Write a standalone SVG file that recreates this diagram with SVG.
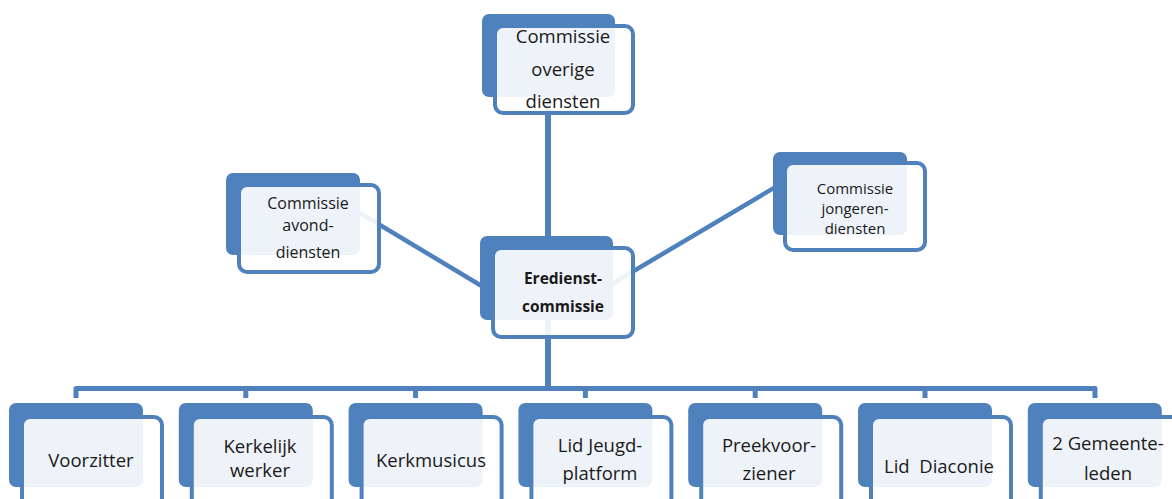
<svg xmlns="http://www.w3.org/2000/svg" width="1172" height="499" viewBox="0 0 1172 499">
<style>
.back{fill:#4f81bd}
.front{fill:#ffffff;fill-opacity:0.9;stroke:#4f81bd;stroke-width:4}
.conn{stroke:#4f81bd;fill:none}
text{font-family:"Open Sans","Noto Sans","Liberation Sans",sans-serif;fill:#1a1a1a;text-anchor:middle}
.t18{font-size:18.5px}
.t16{font-size:16px}
.t15{font-size:15px}
.tb{font-size:15.5px;font-weight:bold}
</style>
<rect width="1172" height="499" fill="#ffffff"/>
<g id="connectors">
<line class="conn" x1="548" y1="90" x2="548" y2="250" stroke-width="6"/>
<line class="conn" x1="548" y1="300" x2="548" y2="388" stroke-width="6"/>
<line class="conn" x1="340" y1="201" x2="500" y2="297" stroke-width="4.5"/>
<line class="conn" x1="600" y1="291" x2="790" y2="178.4" stroke-width="4.5"/>
<path class="conn" stroke-width="5" stroke-linejoin="round" d="M76,398 V388.5 H1095 V398"/>
<path class="conn" stroke-width="5" d="M245.8,388 V398 M415.6,388 V398 M585.4,388 V398 M755.2,388 V398 M925,388 V398"/>
</g>
<g id="node-overige">
<rect class="back" x="482" y="14" width="133" height="83" rx="7"/>
<rect class="front" x="495" y="26" width="138" height="87" rx="8"/>
<text class="t18" x="563" y="43">Commissie</text>
<text class="t18" x="563" y="76">overige</text>
<text class="t18" x="563" y="108">diensten</text>
</g>
<g id="node-avond">
<rect class="back" x="226" y="173" width="134" height="82" rx="7"/>
<rect class="front" x="239" y="185" width="140" height="87" rx="8"/>
<text class="t16" x="308" y="209">Commissie</text>
<text class="t16" x="308" y="231">avond-</text>
<text class="t16" x="308" y="258">diensten</text>
</g>
<g id="node-eredienst">
<rect class="back" x="480" y="236" width="133" height="84" rx="7"/>
<rect class="front" x="493" y="248" width="140" height="89" rx="8"/>
<text class="tb" x="563" y="284">Eredienst-</text>
<text class="tb" x="563" y="312">commissie</text>
</g>
<g id="node-jongeren">
<rect class="back" x="773" y="152" width="134" height="83" rx="7"/>
<rect class="front" x="785" y="163" width="140" height="87" rx="8"/>
<text class="t15" x="855" y="194">Commissie</text>
<text class="t15" x="855" y="214">jongeren-</text>
<text class="t15" x="855" y="234">diensten</text>
</g>
<g id="node-voorzitter">
<rect class="back" x="9" y="403" width="134" height="84" rx="7"/>
<rect class="front" x="22" y="417" width="140" height="90" rx="8"/>
<text class="t18" x="91" y="467">Voorzitter</text>
</g>
<g id="node-kerkelijk">
<rect class="back" x="178.8" y="403" width="134" height="84" rx="7"/>
<rect class="front" x="191.8" y="417" width="140" height="90" rx="8"/>
<text class="t18" x="260" y="453">Kerkelijk</text>
<text class="t18" x="260" y="477">werker</text>
</g>
<g id="node-kerkmusicus">
<rect class="back" x="348.6" y="403" width="134" height="84" rx="7"/>
<rect class="front" x="361.6" y="417" width="140" height="90" rx="8"/>
<text class="t18" x="431" y="467">Kerkmusicus</text>
</g>
<g id="node-jeugdplatform">
<rect class="back" x="518.4" y="403" width="134" height="84" rx="7"/>
<rect class="front" x="531.4" y="417" width="140" height="90" rx="8"/>
<text class="t18" x="600" y="452">Lid Jeugd-</text>
<text class="t18" x="600" y="480">platform</text>
</g>
<g id="node-preekvoorziener">
<rect class="back" x="688.2" y="403" width="134" height="84" rx="7"/>
<rect class="front" x="701.2" y="417" width="140" height="90" rx="8"/>
<text class="t18" x="769" y="452">Preekvoor-</text>
<text class="t18" x="769" y="480">ziener</text>
</g>
<g id="node-diaconie">
<rect class="back" x="858" y="403" width="134" height="84" rx="7"/>
<rect class="front" x="871" y="417" width="140" height="90" rx="8"/>
<text class="t18" x="939" y="473" xml:space="preserve">Lid  Diaconie</text>
</g>
<g id="node-gemeenteleden">
<rect class="back" x="1027.8" y="403" width="134" height="84" rx="7"/>
<rect class="front" x="1040.8" y="417" width="140" height="90" rx="8"/>
<text class="t18" x="1108" y="450">2 Gemeente-</text>
<text class="t18" x="1108" y="480">leden</text>
</g>
</svg>
